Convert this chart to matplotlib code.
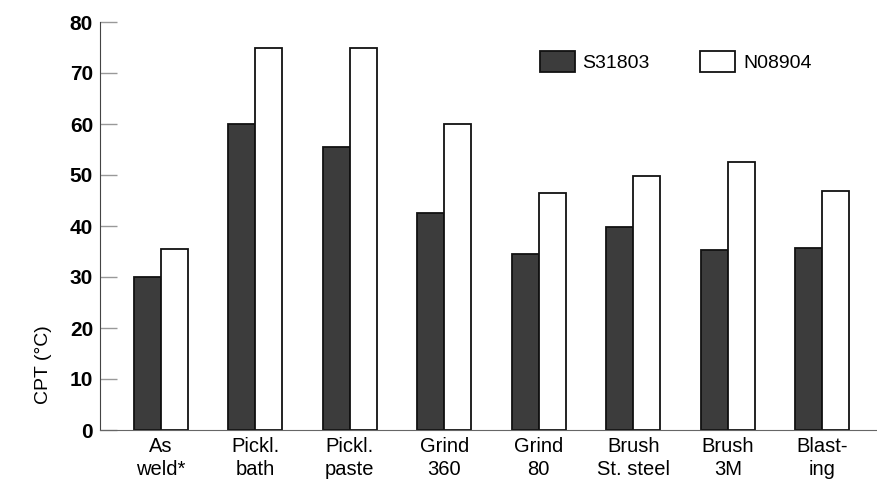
import numpy as np
import matplotlib
matplotlib.use("Agg")
import matplotlib.pyplot as plt

categories = ["As\nweld*", "Pickl.\nbath", "Pickl.\npaste", "Grind\n360", "Grind\n80",
              "Brush\nSt. steel", "Brush\n3M", "Blast-\ning"]
s31803 = [30, 60, 55.5, 42.5, 34.5, 39.8, 35.3, 35.7]
n08904 = [35.5, 75, 75, 60, 46.5, 49.9, 52.6, 46.9]
series_names = ["S31803", "N08904"]

plt.rcParams['font.family'] = ['Liberation Sans', 'DejaVu Sans']

fig = plt.figure(figsize=(8.77, 4.82), dpi=100)
ax = fig.add_axes([100 / 877, 52 / 482, 777 / 877, 408 / 482])

x = np.arange(len(categories))
w = 0.285
ax.bar(x - w / 2, s31803, w, color="#3c3c3c", edgecolor="#111111", linewidth=1.3, label=series_names[0])
ax.bar(x + w / 2, n08904, w, color="white", edgecolor="#111111", linewidth=1.3, label=series_names[1])

ax.set_ylim(0, 80)
ax.set_xlim(-0.645, 7.58)
ax.set_yticks(range(0, 81, 10))
ax.set_xticks(x)
ax.set_xticklabels(categories, fontsize=14.5, linespacing=1.3)
ax.tick_params(axis='x', length=0, pad=5)
ax.tick_params(axis='y', direction='in', length=12, width=1, color='#999999',
               labelsize=15, pad=5)
for lab in ax.get_yticklabels():
    lab.set_fontweight('bold')
ax.spines['top'].set_visible(False)
ax.spines['right'].set_visible(False)
ax.spines['left'].set_color('#444444')
ax.spines['bottom'].set_color('#666666')
ax.set_ylabel("CPT (°C)", fontsize=14)
ax.yaxis.set_label_coords(-0.062, 0.16)

ax.legend(loc='upper left', bbox_to_anchor=(0.566, 0.93), ncol=2, frameon=False,
          fontsize=14, handlelength=1.8, handleheight=1.3, handletextpad=0.4,
          columnspacing=2.6, borderpad=0, borderaxespad=0)

fig.savefig("out.png", dpi=100)
